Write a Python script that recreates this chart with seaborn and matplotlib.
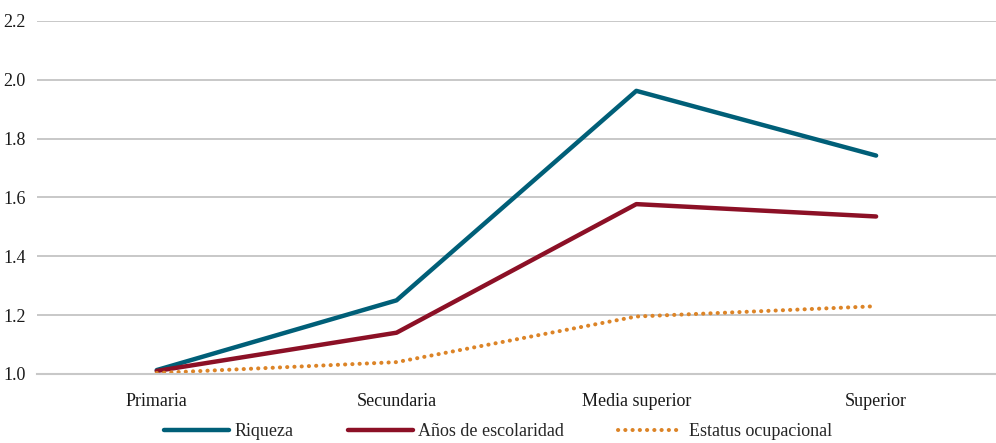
import matplotlib
matplotlib.use("Agg")
import matplotlib.pyplot as plt
import seaborn as sns
import pandas as pd

# -------------------- Data --------------------
niveles = ["Primaria", "Secundaria", "Media superior", "Superior"]
riqueza = [1.013, 1.25, 1.962, 1.742]
escolaridad = [1.01, 1.14, 1.577, 1.535]
estatus = [1.003, 1.04, 1.195, 1.23]

series = ["Riqueza", "Años de escolaridad", "Estatus ocupacional"]
colores = ["#005f78", "#8c1026", "#dc8427"]

df = pd.DataFrame({
    "nivel": niveles * 3,
    "valor": riqueza + escolaridad + estatus,
    "serie": [s for s in series for _ in niveles],
})

# -------------------- Plot --------------------
sns.set_style("white")
plt.rcParams["font.family"] = ["Liberation Serif", "DejaVu Serif"]

fig = plt.figure(figsize=(9.96, 4.43), dpi=100)
ax = fig.add_axes([0.037, 0.156, 0.963, 0.797])

for s, c in zip(series, colores):
    sub = df[df["serie"] == s]
    sns.lineplot(data=sub, x="nivel", y="valor", ax=ax, color=c, lw=3.2,
                 label=s, sort=False)
    if s == "Estatus ocupacional":
        # dotted line with round dots
        line = ax.lines[-1]
        line.set_linewidth(2.9)
        line.set_linestyle((0, (0.05, 1.75)))
        line.set_dash_capstyle("round")

ax.set_xlim(-0.5, 3.5)
ax.set_ylim(1.0, 2.2)
ax.set_yticks([1.0, 1.2, 1.4, 1.6, 1.8, 2.0, 2.2])
ax.set_yticklabels(["1.0", "1.2", "1.4", "1.6", "1.8", "2.0", "2.2"])
ax.yaxis.grid(True, color="#bfbfbf", lw=1.2)
ax.set_axisbelow(True)
for sp in ["top", "right", "left"]:
    ax.spines[sp].set_visible(False)
ax.spines["bottom"].set_color("#c8c8c8")
ax.spines["bottom"].set_linewidth(1.5)
ax.tick_params(axis="both", length=0, labelsize=13, colors="#1a1a1a")
ax.tick_params(axis="x", pad=14)
ax.tick_params(axis="y", pad=8)
ax.set_xlabel("")
ax.set_ylabel("")
ax.get_legend().remove()

handles, labels = ax.get_legend_handles_labels()
fig.legend(handles, labels, loc="lower center", bbox_to_anchor=(0.5, -0.03),
           ncol=3, frameon=False, fontsize=13, handlelength=3.6,
           columnspacing=3.0, handletextpad=0.3)

plt.savefig("out.png", dpi=100)
